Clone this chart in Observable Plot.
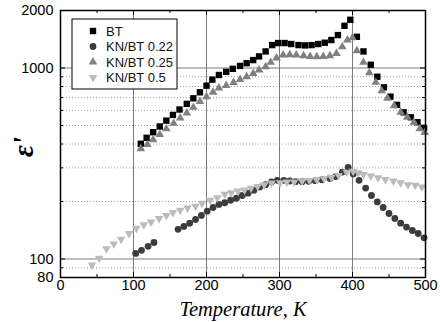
<!DOCTYPE html>
<html>
<head>
<meta charset="utf-8">
<script src="https://cdn.jsdelivr.net/npm/d3@7"></script>
<script src="https://cdn.jsdelivr.net/npm/@observablehq/plot@0.6"></script>
<style>
  html, body { margin: 0; padding: 0; background: #fff; }
</style>
</head>
<body>
<div id="chart"></div>
<script>
// ---- data ----
const btT = [110,118,127,136,145,154,163,173,182,191,200,208,217,227,236,246,255,264,272,281,290,298,307,316,326,335,344,353,362,371,380,389,397,406,415,425,434,443,452,461,470,480,489,498];
const btV = [401,431,461,494,530,568,606,649,694,746,808,869,919,955,990,1025,1060,1100,1150,1221,1318,1351,1351,1335,1318,1313,1318,1335,1356,1401,1487,1663,1788,1457,1221,1040,900,792,708,641,586,552,520,486];

const kn22T = [103,111,120,128,161,169,177,185,193,201,209,217,225,233,241,249,257,265,273,281,289,297,306,314,322,331,340,349,358,369,377,386,394,401,409,418,426,434,442,450,458,466,474,482,490,498];
const kn22V = [107,111,116.5,122,143,148,154,161,169,178,186,193,197,203,208,215,221,229,238,245,253,258,258,256,254,254,255,257,260,264,270,285,302,279,258,235,215,199,186,173,163,154,147,141,136,129];

const kn25T = [110,119,127,136,145,155,164,173,182,191,200,209,217,227,237,246,255,264,272,281,288,296,305,314,323,333,342,351,360,369,378,386,393,400,406,415,423,432,440,448,457,466,475,484,492,499];
const kn25V = [378,397,421,448,480,513,548,582,622,667,708,746,786,810,840,870,900,937,977,1016,1070,1128,1169,1174,1169,1159,1150,1146,1150,1159,1192,1290,1400,1440,1231,1070,945,841,759,694,635,586,552,520,480,459];

const kn50T = [43,53,63,73,83,94,104,114,124,135,145,154,164,174,185,194,205,215,225,234,243,252,261,270,279,289,301,310,320,331,341,351,361,371,381,392,401,408,415,425,435,445,456,466,476,486,495];
const kn50V = [93,101,113,120,127,136,145,151,156,163,169,175,180,185,189,196,203,209,218,222,227,230,235,240,245,250,251,253,253,256,258,260,263,268,274,285,288,283,277,272,266,261,256,251,245,243,238];

const seriesNames = ["BT", "KN/BT 0.22", "KN/BT 0.25", "KN/BT 0.5"];
const xMajorTicks = [0,100,200,300,400,500];
const xMinorTicks = [50,150,250,350,450];
const xGrid = [100,200,300,400];
const yTickLabels = [80,100,1000,2000];
const yMajorGrid = [100,1000];
const yMinorGrid = [90,200,300,400,500,600,700,800,900];
const xLabel = "Temperature, K";
const yLabel = "ε'";

// ---- styling ----
const colors = ["#000000", "#3c3c3c", "#808080", "#bcbcbc"];
const triangleDown = {
  draw(context, size) {
    const s3 = Math.sqrt(3);
    const y = -Math.sqrt(size / (s3 * 3));
    context.moveTo(0, -y * 2);
    context.lineTo(-s3 * y, y);
    context.lineTo(s3 * y, y);
    context.closePath();
  }
};
const symbols = [d3.symbolSquare, d3.symbolCircle, d3.symbolTriangle, triangleDown];
const radii = [3.6, 3.4, 3.2, 3.2];

const W = 440, H = 322, mL = 60, mR = 15, mT = 10, mB = 45;
const iW = W - mL - mR, iH = H - mT - mB;
const sans = "'Liberation Sans', Arial, sans-serif";
const serif = "'Liberation Serif', 'Times New Roman', serif";

const toRows = (T, V) => T.map((t, i) => ({t, v: V[i]}));
const rows = [toRows(btT, btV), toRows(kn22T, kn22V), toRows(kn25T, kn25V), toRows(kn50T, kn50V)];

const dotMarks = rows.map((data, i) =>
  Plot.dot(data, {x: "t", y: "v", symbol: symbols[i], r: radii[i], fill: colors[i], stroke: "none"})
);

const chart = Plot.plot({
  width: W, height: H,
  marginLeft: mL, marginRight: mR, marginTop: mT, marginBottom: mB,
  x: {domain: [0, 500], axis: null},
  y: {type: "log", domain: [80, 2000], axis: null},
  style: {fontFamily: sans, fontSize: "14px", color: "#000", background: "#fff"},
  marks: [
    Plot.ruleY(yMinorGrid, {y: d => d, stroke: "#a0a0a0", strokeWidth: 1, strokeDasharray: "1,2"}),
    Plot.ruleY(yMajorGrid, {y: d => d, stroke: "#a8a8a8", strokeWidth: 1.6}),
    Plot.ruleX(xGrid, {x: d => d, stroke: "#7a7a7a", strokeWidth: 1}),
    // inward ticks
    Plot.ruleX(xMajorTicks, {x: d => d, insetTop: iH - 5, stroke: "#000"}),
    Plot.ruleX(xMajorTicks, {x: d => d, insetBottom: iH - 5, stroke: "#000"}),
    Plot.ruleX(xMinorTicks, {x: d => d, insetTop: iH - 3, stroke: "#000"}),
    Plot.ruleX(xMinorTicks, {x: d => d, insetBottom: iH - 3, stroke: "#000"}),
    Plot.ruleY(yMajorGrid, {y: d => d, insetRight: iW - 5, stroke: "#000"}),
    Plot.ruleY(yMajorGrid, {y: d => d, insetLeft: iW - 5, stroke: "#000"}),
    Plot.ruleY(yMinorGrid, {y: d => d, insetRight: iW - 3, stroke: "#000"}),
    Plot.ruleY(yMinorGrid, {y: d => d, insetLeft: iW - 3, stroke: "#000"}),
    ...dotMarks,
    Plot.frame({stroke: "#000", strokeWidth: 1.5}),
    // tick labels
    Plot.text(xMajorTicks, {x: d => d, frameAnchor: "bottom", dy: 12, text: d => String(d), fontSize: 14.5, fontFamily: sans, fill: "#000"}),
    Plot.text(yTickLabels, {y: d => d, frameAnchor: "left", dx: -7, textAnchor: "end", text: d => String(d), fontSize: 14.5, fontFamily: sans, fill: "#000"}),
    Plot.text([xLabel], {frameAnchor: "bottom", dy: 38, text: d => d, fontFamily: serif, fontStyle: "italic", fontSize: 20.5, fill: "#000"}),
    Plot.text([yLabel], {frameAnchor: "left", dx: -37, dy: 13, rotate: -90, text: d => d, fontFamily: serif, fontStyle: "italic", fontWeight: "bold", fontSize: 29, fill: "#000"})
  ]
});

// ---- legend ----
const svg = d3.select(chart);
const lg = svg.append("g").attr("transform", "translate(72,19)").attr("text-anchor", "start");
lg.append("rect").attr("width", 105).attr("height", 70).attr("fill", "#fff").attr("stroke", "#000").attr("stroke-width", 1);
seriesNames.forEach((name, i) => {
  const yy = 12 + i * 15.5;
  lg.append("path")
    .attr("transform", `translate(21,${yy})`)
    .attr("d", d3.symbol(symbols[i], Math.PI * radii[i] * radii[i])())
    .attr("fill", colors[i]);
  lg.append("text")
    .attr("x", 34).attr("y", yy).attr("dy", "0.35em")
    .attr("text-anchor", "start")
    .attr("font-size", 13).attr("fill", "#111")
    .attr("font-family", sans)
    .text(name);
});

document.getElementById("chart").appendChild(chart);
</script>
</body>
</html>
